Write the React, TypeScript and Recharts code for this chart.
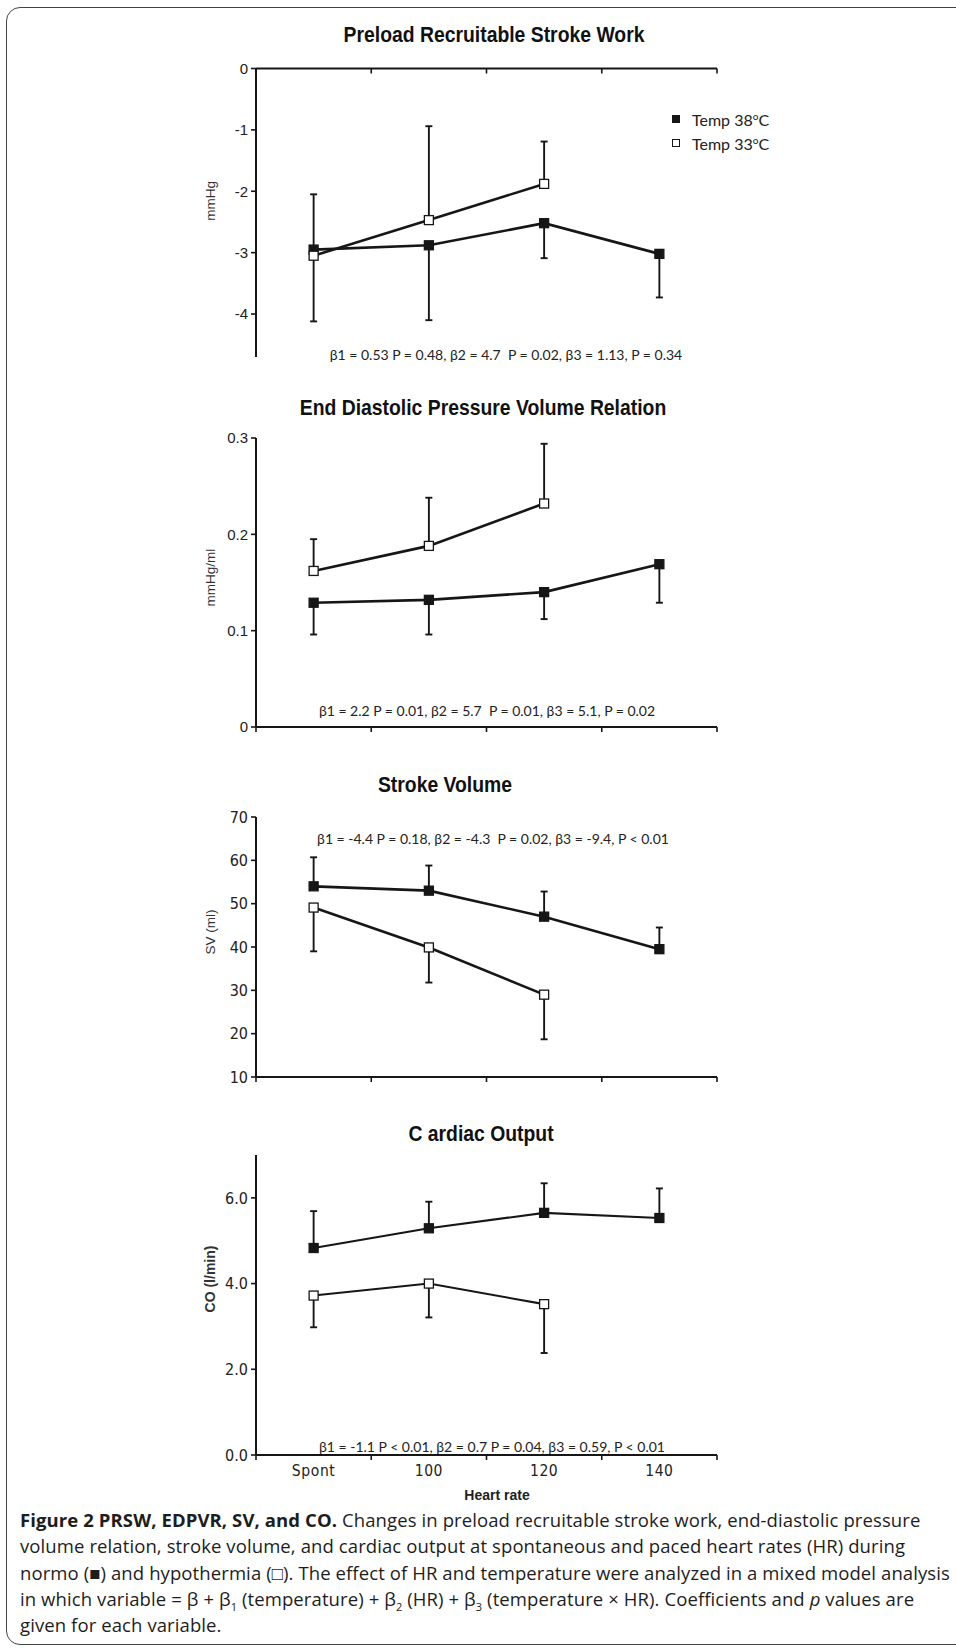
import React from 'react';
import { LineChart, Line, XAxis, YAxis, ErrorBar, Legend } from 'recharts';

const categories = ['Spont', '100', '120', '140'];

// Preload recruitable stroke work (mmHg)
const prsw38 = [-2.95, -2.88, -2.52, -3.02];
const prsw38Sd = [1.17, 1.22, 0.57, 0.71];
const prsw33 = [-3.05, -2.47, -1.88];
const prsw33Sd = [1.0, 1.53, 0.69];
const prswTicks = [0, -1, -2, -3, -4];

// End diastolic pressure volume relation (mmHg/ml)
const edpvr38 = [0.129, 0.132, 0.14, 0.169];
const edpvr38Sd = [0.033, 0.036, 0.028, 0.04];
const edpvr33 = [0.162, 0.188, 0.232];
const edpvr33Sd = [0.033, 0.05, 0.062];
const edpvrTicks = [0, 0.1, 0.2, 0.3];

// Stroke volume (ml)
const sv38 = [54.0, 53.0, 47.0, 39.5];
const sv38Sd = [6.7, 5.8, 5.8, 5.0];
const sv33 = [49.1, 39.9, 29.0];
const sv33Sd = [10.1, 8.1, 10.3];
const svTicks = [10, 20, 30, 40, 50, 60, 70];

// Cardiac output (l/min)
const co38 = [4.83, 5.29, 5.65, 5.53];
const co38Sd = [0.86, 0.62, 0.69, 0.69];
const co33 = [3.72, 4.0, 3.52];
const co33Sd = [0.74, 0.79, 1.14];
const coTicks = [0, 2, 4, 6];

const seriesNames = ['Temp 38°C', 'Temp 33°C'];

const statTexts = [
  'β1 = 0.53 P = 0.48, β2 = 4.7  P = 0.02, β3 = 1.13, P = 0.34',
  'β1 = 2.2 P = 0.01, β2 = 5.7  P = 0.01, β3 = 5.1, P = 0.02',
  'β1 = -4.4 P = 0.18, β2 = -4.3  P = 0.02, β3 = -9.4, P < 0.01',
  'β1 = -1.1 P < 0.01, β2 = 0.7 P = 0.04, β3 = 0.59, P < 0.01',
];

const NARROW = "'Liberation Sans Narrow', 'DejaVu Sans Condensed', sans-serif";
const ARIAL = "'Liberation Sans', Arial, sans-serif";
const INK = '#161616';

type Side = 'up' | 'down';

const rows = (means: number[], sds: number[], side: Side) =>
  means.map((v, i) => ({
    x: i + 0.5,
    v,
    err: side === 'up' ? [0, sds[i]] : [sds[i], 0],
  }));

const square = (fill: string) => (p: any) => {
  if (p.cx == null || p.cy == null) return <g key={`n${p.index}`} />;
  return (
    <rect
      key={`d${p.index}`}
      x={p.cx - 4.5}
      y={p.cy - 4.5}
      width={9}
      height={9}
      fill={fill}
      stroke={INK}
      strokeWidth={1.3}
    />
  );
};

// boundary ticks on whole numbers, category names at the band centres
const catTick = (labels: boolean) => (props: any) => {
  const { x, y, payload, index } = props;
  const v = payload.value as number;
  if (Number.isInteger(v)) {
    return <line key={`t${index}`} x1={x} x2={x} y1={y} y2={y + 5} stroke={INK} strokeWidth={1.6} />;
  }
  if (!labels) return <g key={`t${index}`} />;
  return (
    <text
      key={`t${index}`}
      x={x}
      y={y + 21}
      textAnchor="middle"
      fill="#222"
      fontSize={15.5}
      fontFamily={NARROW}
      letterSpacing={0.6}
    >
      {categories[Math.floor(v)]}
    </text>
  );
};

const legendContent = (props: any) => {
  const items = [...(props.payload || [])].sort(
    (a: any, b: any) => seriesNames.indexOf(a.value) - seriesNames.indexOf(b.value)
  );
  return (
    <div style={{ fontFamily: 'Lato, sans-serif', fontSize: 16, color: '#222' }}>
      {items.map((it: any) => {
        const filled = seriesNames.indexOf(it.value) === 0;
        const [head, tail] = String(it.value).split('°');
        return (
          <div key={it.value} style={{ display: 'flex', alignItems: 'center', height: 24 }}>
            <span
              style={{
                width: 6,
                height: 6,
                background: filled ? INK : '#fff',
                border: `1.3px solid ${INK}`,
                display: 'inline-block',
              }}
            />
            <span style={{ marginLeft: 12, whiteSpace: 'nowrap' }}>
              {head}
              <sup style={{ fontSize: 10, lineHeight: 0 }}>o</sup>
              {tail}
            </span>
          </div>
        );
      })}
    </div>
  );
};

type PanelProps = {
  top: number;
  height: number;
  margin: { top: number; right: number; bottom: number; left: number };
  m38: number[];
  s38: number[];
  m33: number[];
  s33: number[];
  side38: Side;
  side33: Side;
  domain: [number, number];
  ticks: number[];
  fmt: (v: number) => string;
  tickFont: any;
  yLabel: string;
  yLabelDy: number;
  yLabelBold?: boolean;
  topAxis?: boolean;
  showCats?: boolean;
  legend?: boolean;
  lineWidth: number;
};

const xTicks = categories.flatMap((_, i) => [i, i + 0.5]).concat([categories.length]);

function Panel(p: PanelProps) {
  const d38 = rows(p.m38, p.s38, p.side38);
  const d33 = rows(p.m33, p.s33, p.side33);
  const axisLine = { stroke: INK, strokeWidth: 2 };
  const tickLine = { stroke: INK, strokeWidth: 1.6 };
  return (
    <div style={{ position: 'absolute', left: 0, top: p.top }}>
      <LineChart width={956} height={p.height} margin={p.margin}>
        <XAxis
          type="number"
          dataKey="x"
          domain={[0, categories.length]}
          ticks={xTicks}
          allowDataOverflow
          interval={0}
          orientation={p.topAxis ? 'top' : 'bottom'}
          height={p.topAxis ? 2 : 8}
          tick={catTick(!!p.showCats)}
          tickSize={0}
          tickMargin={0}
          tickLine={false}
          axisLine={axisLine}
        />
        <YAxis
          type="number"
          domain={p.domain}
          ticks={p.ticks}
          allowDataOverflow
          interval={0}
          width={60}
          tickSize={5}
          tickMargin={3}
          tickFormatter={p.fmt}
          tick={p.tickFont}
          axisLine={axisLine}
          tickLine={tickLine}
          label={{
            value: p.yLabel,
            angle: -90,
            position: 'center',
            dx: -16,
            dy: p.yLabelDy,
            style: {
              fontFamily: ARIAL,
              fontSize: p.yLabelBold ? 14 : 13.5,
              fontWeight: p.yLabelBold ? 700 : 400,
              fill: '#333',
            },
          }}
        />
        {p.legend && (
          <Legend
            layout="vertical"
            align="center"
            verticalAlign="middle"
            content={legendContent}
            wrapperStyle={{ left: 672, top: 67, width: 140, height: 48 }}
          />
        )}
        <Line
          name={seriesNames[0]}
          data={d38}
          dataKey="v"
          stroke={INK}
          strokeWidth={p.lineWidth}
          dot={square(INK)}
          activeDot={false}
          isAnimationActive={false}
        >
          <ErrorBar dataKey="err" width={3.5} strokeWidth={1.9} stroke={INK} direction="y" isAnimationActive={false} />
        </Line>
        <Line
          name={seriesNames[1]}
          data={d33}
          dataKey="v"
          stroke={INK}
          strokeWidth={p.lineWidth}
          dot={square('#ffffff')}
          activeDot={false}
          isAnimationActive={false}
        >
          <ErrorBar dataKey="err" width={3.5} strokeWidth={1.9} stroke={INK} direction="y" isAnimationActive={false} />
        </Line>
      </LineChart>
    </div>
  );
}

const arialTick = { fill: '#222', fontSize: 15, fontFamily: ARIAL };
const narrowTick = { fill: '#222', fontSize: 16, fontFamily: NARROW };

const titles = [
  { text: 'Preload Recruitable Stroke Work', x: 494, y: 35 },
  { text: 'End Diastolic Pressure Volume Relation', x: 483, y: 408 },
  { text: 'Stroke Volume', x: 445, y: 785 },
  { text: 'C ardiac Output', x: 481, y: 1134 },
];
const statPos = [
  { x: 506, y: 354 },
  { x: 487, y: 710 },
  { x: 493, y: 838 },
  { x: 492, y: 1446 },
];

const centered = (x: number, y: number, sx = 1): React.CSSProperties => ({
  position: 'absolute',
  left: x,
  top: y,
  transform: `translate(-50%, -50%) scaleX(${sx})`,
  whiteSpace: 'nowrap',
});

const capLine: React.CSSProperties = {
  position: 'absolute',
  left: 20,
  whiteSpace: 'nowrap',
  fontFamily: "'Open Sans', sans-serif",
  fontSize: 18.5,
  letterSpacing: 0.1,
  color: '#1d1d1d',
  lineHeight: '22px',
};

export default function App() {
  const m = { right: 239, left: 196 };
  return (
    <div style={{ position: 'absolute', left: 0, top: 0, width: 956, height: 1652, overflow: 'hidden', background: '#fff' }}>
      <div
        style={{
          position: 'absolute',
          left: 6,
          top: 7,
          width: 980,
          height: 1636,
          border: '1.5px solid #444',
          borderRadius: 14,
        }}
      />
      <Panel
        top={40}
        height={340}
        margin={{ top: 26.5, bottom: 23, ...m }}
        m38={prsw38}
        s38={prsw38Sd}
        m33={prsw33}
        s33={prsw33Sd}
        side38="down"
        side33="up"
        domain={[-4.7, 0]}
        ticks={prswTicks}
        fmt={(v) => String(v)}
        tickFont={arialTick}
        yLabel="mmHg"
        yLabelDy={-12}
        topAxis
        legend
        lineWidth={2.6}
      />
      <Panel
        top={420}
        height={322}
        margin={{ top: 18, bottom: 7, ...m }}
        m38={edpvr38}
        s38={edpvr38Sd}
        m33={edpvr33}
        s33={edpvr33Sd}
        side38="down"
        side33="up"
        domain={[0, 0.3]}
        ticks={edpvrTicks}
        fmt={(v) => String(v)}
        tickFont={arialTick}
        yLabel="mmHg/ml"
        yLabelDy={-5}
        lineWidth={2.6}
      />
      <Panel
        top={800}
        height={292}
        margin={{ top: 17, bottom: 7, ...m }}
        m38={sv38}
        s38={sv38Sd}
        m33={sv33}
        s33={sv33Sd}
        side38="up"
        side33="down"
        domain={[10, 70]}
        ticks={svTicks}
        fmt={(v) => String(v)}
        tickFont={narrowTick}
        yLabel="SV (ml)"
        yLabelDy={-15}
        lineWidth={2.6}
      />
      <Panel
        top={1140}
        height={350}
        margin={{ top: 15, bottom: 27, ...m }}
        m38={co38}
        s38={co38Sd}
        m33={co33}
        s33={co33Sd}
        side38="up"
        side33="down"
        domain={[0, 7]}
        ticks={coTicks}
        fmt={(v) => v.toFixed(1)}
        tickFont={narrowTick}
        yLabel="CO (l/min)"
        yLabelDy={-26}
        yLabelBold
        showCats
        lineWidth={2.1}
      />

      {titles.map((t, i) => (
        <div
          key={i}
          style={{ ...centered(t.x, t.y, 0.88), fontFamily: ARIAL, fontWeight: 700, fontSize: 22, color: '#111' }}
        >
          {t.text}
        </div>
      ))}
      {statTexts.map((s, i) => (
        <div
          key={i}
          style={{ ...centered(statPos[i].x, statPos[i].y), fontFamily: 'Lato, sans-serif', fontSize: 14, color: '#222', whiteSpace: 'pre' }}
        >
          {s}
        </div>
      ))}
      <div style={{ ...centered(497, 1495), fontFamily: ARIAL, fontWeight: 700, fontSize: 14, color: '#222' }}>
        Heart rate
      </div>

      <div style={{ ...capLine, top: 1509 }}>
        <b>Figure 2 PRSW, EDPVR, SV, and CO.</b> Changes in preload recruitable stroke work, end-diastolic pressure
      </div>
      <div style={{ ...capLine, top: 1535 }}>
        volume relation, stroke volume, and cardiac output at spontaneous and paced heart rates (HR) during
      </div>
      <div style={{ ...capLine, top: 1562 }}>
        normo (■) and hypothermia (□). The effect of HR and temperature were analyzed in a mixed model analysis
      </div>
      <div style={{ ...capLine, top: 1588 }}>
        in which variable = β + β<sub style={{ fontSize: 11 }}>1</sub> (temperature) + β<sub style={{ fontSize: 11 }}>2</sub> (HR) + β
        <sub style={{ fontSize: 11 }}>3</sub> (temperature × HR). Coefficients and <i>p</i> values are
      </div>
      <div style={{ ...capLine, top: 1614 }}>given for each variable.</div>
    </div>
  );
}
